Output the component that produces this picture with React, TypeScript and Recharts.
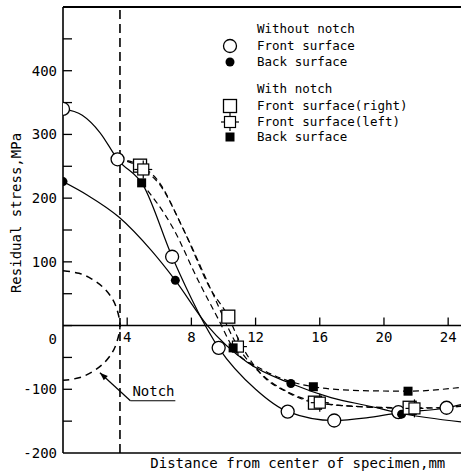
import React from 'react';
import { ComposedChart, Line, Scatter, XAxis, YAxis, ReferenceLine } from 'recharts';

const FONT = '"DejaVu Sans Mono", "Liberation Mono", monospace';

// ---- measured points (markers) ----
const frontNoNotchX = [0, 3.4, 6.8, 9.7, 14.0, 16.9, 20.9, 23.9];
const frontNoNotchY = [340, 261, 108, -35, -135, -149, -136, -129];
const backNoNotchX = [0, 7.0, 14.2, 21.1];
const backNoNotchY = [226, 71, -91, -139];
const frontRightX = [4.8, 10.3, 15.7, 21.6];
const frontRightY = [251, 14, -121, -129];
const frontLeftX = [5.0, 10.9, 16.0, 21.9];
const frontLeftY = [245, -33, -121, -130];
const backNotchX = [4.9, 10.6, 15.6, 21.5];
const backNotchY = [224, -35, -96, -103];

// ---- fitted curves ----
const frontNoNotchCurveX = [0, 1.2, 2.3, 3.4, 5.0, 6.8, 9.7, 12.0, 14.0, 16.9, 18.9, 20.9, 23.9, 24.8];
const frontNoNotchCurveY = [340, 330, 303, 261, 220, 108, -35, -100, -135, -149, -145, -137, -129, -124];
const backNoNotchCurveX = [0, 1.5, 3.5, 5.5, 7.0, 9.0, 11.5, 14.2, 16.7, 19.2, 21.1, 24.8];
const backNoNotchCurveY = [226, 205, 170, 118, 71, 0, -58, -91, -113, -127, -138, -151];
const frontRightCurveX = [3.4, 4.8, 5.9, 7.5, 9.2, 10.3, 11.0, 12.3, 14.0, 15.7, 18.5, 21.6, 23.9, 24.8];
const frontRightCurveY = [262, 251, 228, 151, 57, 14, -25, -75, -105, -121, -127, -129, -129, -126];
const frontLeftCurveX = [3.4, 5.0, 6.0, 7.6, 9.3, 10.9, 12.4, 14.0, 16.0, 19.0, 21.9, 24.8];
const frontLeftCurveY = [262, 245, 222, 146, 52, -33, -77, -104, -121, -128, -130, -127];
const backNotchCurveX = [4.9, 6.9, 8.4, 9.7, 10.6, 12.5, 14.2, 15.6, 18.5, 21.5, 24.8];
const backNotchCurveY = [224, 151, 72, 9, -35, -70, -88, -96, -102, -103, -97];

// notch outline (dashed half circle)
const notchX = [0, 1.0, 1.8, 2.5, 3.0, 3.3, 3.5, 3.55, 3.5, 3.3, 3.0, 2.5, 1.8, 1.0, 0];
const notchY = [86, 82, 73, 60, 45, 30, 12, 0, -12, -30, -45, -60, -73, -82, -86];

// axes
const xTickValues = [4, 8, 12, 16, 20, 24];
const yLabelValues = [-200, -100, 0, 100, 200, 300, 400];
const yMinorValues = [-150, -100, -50, 0, 50, 100, 150, 200, 250, 300, 350, 400, 450];
const notchEdge = 3.55;

const zip = (xs: number[], ys: number[]) => xs.map((x, i) => ({ x, y: ys[i] }));

const OpenCircle = (p: any) => <circle cx={p.cx} cy={p.cy} r={6.5} fill="#fff" stroke="#000" strokeWidth={1.3} />;
const FilledCircle = (p: any) => <circle cx={p.cx} cy={p.cy} r={4.5} fill="#000" />;
const OpenSquare = (p: any) => (
  <rect x={p.cx - 6.5} y={p.cy - 6.5} width={13} height={13} fill="#fff" stroke="#000" strokeWidth={1.3} />
);
const CrossSquare = (p: any) => (
  <g stroke="#000" strokeWidth={1.2}>
    <line x1={p.cx - 9} y1={p.cy} x2={p.cx + 9} y2={p.cy} />
    <line x1={p.cx} y1={p.cy - 9} x2={p.cx} y2={p.cy + 9} />
    <rect x={p.cx - 5.5} y={p.cy - 5.5} width={11} height={11} fill="#fff" />
  </g>
);
const FilledSquare = (p: any) => <rect x={p.cx - 4.5} y={p.cy - 4.5} width={9} height={9} fill="#000" />;

const XTickMark = (p: any) => (
  <g>
    <line x1={p.cx} y1={p.cy} x2={p.cx} y2={p.cy - 8} stroke="#000" strokeWidth={1.3} />
    <text x={p.cx} y={p.cy + 12} dy="0.35em" textAnchor="middle" fontSize={14} fontFamily={FONT} fill="#000">
      {p.payload.x}
    </text>
  </g>
);
const YTickMark = (p: any) => (
  <line x1={p.cx} y1={p.cy} x2={p.cx + 9} y2={p.cy} stroke="#000" strokeWidth={1.3} />
);

const YTickLabel = (p: any) => (
  <text
    x={p.x}
    y={p.payload.value === 0 ? p.y + 14 : p.y}
    dy="0.35em"
    textAnchor="end"
    fontSize={14}
    fontFamily={FONT}
    fill="#000"
  >
    {p.payload.value}
  </text>
);

const ArrowShape = (p: any) => {
  const { x1, y1, x2, y2 } = p;
  const ang = Math.atan2(y1 - y2, x1 - x2);
  const L = 8, W = 3;
  const bx = x1 - L * Math.cos(ang), by = y1 - L * Math.sin(ang);
  const pts = `${x1},${y1} ${bx - W * Math.sin(ang)},${by + W * Math.cos(ang)} ${bx + W * Math.sin(ang)},${by - W * Math.cos(ang)}`;
  return (
    <g>
      <line x1={x1} y1={y1} x2={x2} y2={y2} stroke="#000" strokeWidth={1.2} />
      <polygon points={pts} fill="#000" />
    </g>
  );
};
const NotchLabelShape = (p: any) => (
  <g>
    <line x1={p.x1} y1={p.y1} x2={p.x2} y2={p.y2} stroke="#000" strokeWidth={1.2} />
    <text x={p.x1 + 2} y={p.y1 - 5} fontSize={14} fontFamily={FONT} fill="#000">Notch</text>
  </g>
);

const legendRows = [
  { label: 'Without notch', y: 29, marker: null },
  { label: 'Front surface', y: 46, marker: 'oc' },
  { label: 'Back surface', y: 62, marker: 'fc' },
  { label: 'With notch', y: 89, marker: null },
  { label: 'Front surface(right)', y: 106, marker: 'os' },
  { label: 'Front surface(left)', y: 122, marker: 'cs' },
  { label: 'Back surface', y: 137, marker: 'fs' },
];

const LegendMarker = ({ kind, cx, cy }: { kind: string | null; cx: number; cy: number }) => {
  if (kind === 'oc') return <OpenCircle cx={cx} cy={cy} />;
  if (kind === 'fc') return <FilledCircle cx={cx} cy={cy} />;
  if (kind === 'os') return <OpenSquare cx={cx} cy={cy} />;
  if (kind === 'cs') return <CrossSquare cx={cx} cy={cy} />;
  if (kind === 'fs') return <FilledSquare cx={cx} cy={cy} />;
  return null;
};

export default function App() {
  const curveProps = { stroke: '#000', strokeWidth: 1.2, dot: false, activeDot: false, isAnimationActive: false, dataKey: 'y', legendType: 'none' as const };
  return (
    <div style={{ position: 'absolute', left: 0, top: 0, width: 461, height: 472, background: '#fff' }}>
      <ComposedChart width={461} height={472} margin={{ top: 7, right: 0, bottom: 0, left: 0 }}>
        <XAxis
          type="number"
          dataKey="x"
          domain={[0, 24.8]}
          allowDataOverflow
          axisLine={false}
          tickLine={false}
          tick={false}
          height={19}
          label={{
            content: (p: any) => (
              <text x={p.viewBox.x + p.viewBox.width * 0.59} y={p.viewBox.y + 10} dy="0.35em" textAnchor="middle" fontSize={14} fontFamily={FONT} fill="#000">
                Distance from center of specimen,mm
              </text>
            ),
          }}
        />
        <YAxis
          type="number"
          domain={[-200, 500]}
          allowDataOverflow
          ticks={yLabelValues}
          width={63}
          axisLine={{ stroke: '#000', strokeWidth: 1.6 }}
          tickLine={false}
          tickSize={0}
          tickMargin={6}
          tick={<YTickLabel />}
          label={{
            content: (p: any) => (
              <text
                x={16}
                y={213}
                transform="rotate(-90 16 213)"
                dy="0.35em"
                textAnchor="middle"
                fontSize={14}
                fontFamily={FONT}
                fill="#000"
              >
                Residual stress,MPa
              </text>
            ),
          }}
        />
        <ReferenceLine y={500} stroke="#000" strokeWidth={2} />
        <ReferenceLine y={-200} stroke="#000" strokeWidth={1.6} />
        <ReferenceLine y={0} stroke="#000" strokeWidth={1.6} />
        <ReferenceLine x={notchEdge} stroke="#000" strokeWidth={1.6} strokeDasharray="9 5" />
        <ReferenceLine segment={[{ x: 2.3, y: -74 }, { x: 4.2, y: -118 }]} shape={<ArrowShape />} />
        <ReferenceLine segment={[{ x: 4.2, y: -118 }, { x: 7.0, y: -118 }]} shape={<NotchLabelShape />} />

        <Line data={zip(notchX, notchY)} type="natural" {...curveProps} strokeWidth={1.5} strokeDasharray="7 5" />
        <Line data={zip(frontNoNotchCurveX, frontNoNotchCurveY)} type="monotone" {...curveProps} />
        <Line data={zip(backNoNotchCurveX, backNoNotchCurveY)} type="monotone" {...curveProps} />
        <Line data={zip(frontRightCurveX, frontRightCurveY)} type="monotone" {...curveProps} strokeDasharray="6 4" />
        <Line data={zip(frontLeftCurveX, frontLeftCurveY)} type="monotone" {...curveProps} strokeDasharray="6 4" />
        <Line data={zip(backNotchCurveX, backNotchCurveY)} type="monotone" {...curveProps} strokeDasharray="6 4" />

        <Scatter data={xTickValues.map((x) => ({ x, y: 0 }))} dataKey="y" shape={<XTickMark />} isAnimationActive={false} legendType="none" />
        <Scatter data={yMinorValues.map((y) => ({ x: 0, y }))} dataKey="y" shape={<YTickMark />} isAnimationActive={false} legendType="none" />

        <Scatter name="Front surface (without notch)" data={zip(frontNoNotchX, frontNoNotchY)} dataKey="y" shape={<OpenCircle />} isAnimationActive={false} />
        <Scatter name="Back surface (without notch)" data={zip(backNoNotchX, backNoNotchY)} dataKey="y" shape={<FilledCircle />} isAnimationActive={false} />
        <Scatter name="Front surface(right)" data={zip(frontRightX, frontRightY)} dataKey="y" shape={<OpenSquare />} isAnimationActive={false} />
        <Scatter name="Front surface(left)" data={zip(frontLeftX, frontLeftY)} dataKey="y" shape={<CrossSquare />} isAnimationActive={false} />
        <Scatter name="Back surface (with notch)" data={zip(backNotchX, backNotchY)} dataKey="y" shape={<FilledSquare />} isAnimationActive={false} />
      </ComposedChart>
      <svg width={461} height={150} style={{ position: 'absolute', left: 0, top: 0, pointerEvents: 'none' }}>
        {legendRows.map((r, i) => (
          <g key={i}>
            <LegendMarker kind={r.marker} cx={230} cy={r.y} />
            <text x={257} y={r.y} dy="0.35em" fontSize={12.5} fontFamily={FONT} fill="#000">
              {r.label}
            </text>
          </g>
        ))}
      </svg>
    </div>
  );
}
